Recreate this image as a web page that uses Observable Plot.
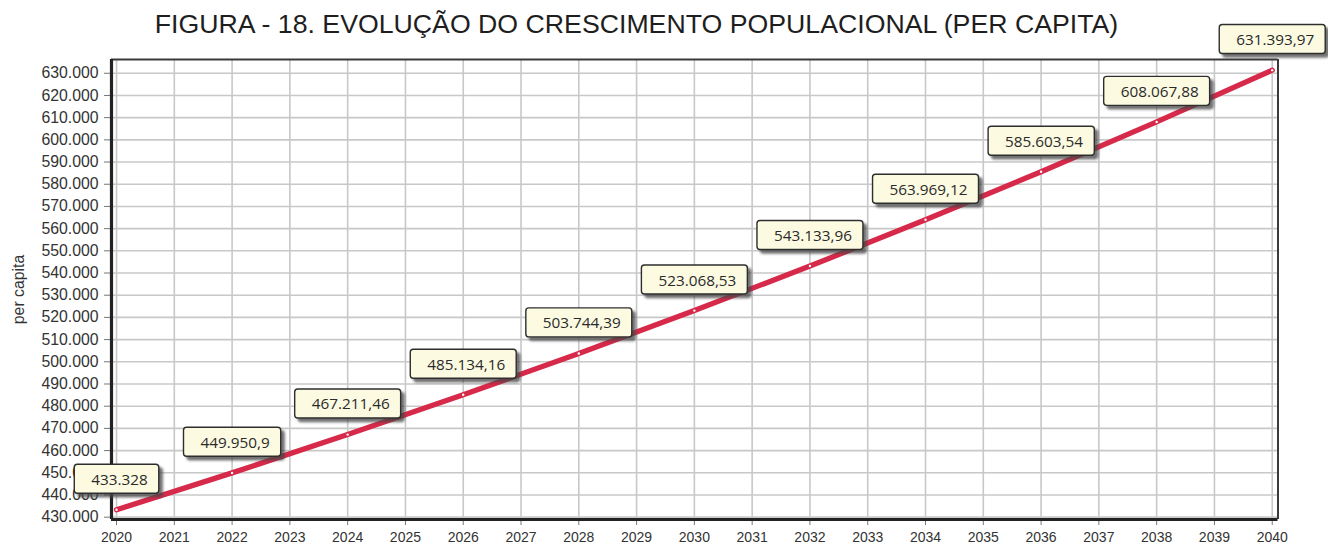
<!DOCTYPE html>
<html>
<head>
<meta charset="utf-8">
<script src="https://cdn.jsdelivr.net/npm/d3@7"></script>
<script src="https://cdn.jsdelivr.net/npm/@observablehq/plot@0.6"></script>
<style>
  body { margin: 0; background: #fff; }
  #wrap { position: relative; width: 1328px; height: 546px; overflow: hidden; }
  #title { position: absolute; left: 0; width: 1273px; top: 9px; line-height: 30px; text-align: center;
           font-family: "Liberation Sans", Arial, sans-serif; font-size: 26.7px; color: #1e1e1e; white-space: nowrap; z-index: 0; }
  #chart { position: absolute; left: 0; top: 0; z-index: 1; }
</style>
</head>
<body>
<div id="wrap">
  <div id="title">FIGURA - 18. EVOLUÇÃO DO CRESCIMENTO POPULACIONAL (PER CAPITA)</div>
  <div id="chart"></div>
</div>
<script>
// ---- data ----
const years = [2020, 2022, 2024, 2026, 2028, 2030, 2032, 2034, 2036, 2038, 2040];
const values = [433328, 449950.9, 467211.46, 485134.16, 503744.39, 523068.53, 543133.96, 563969.12, 585603.54, 608067.88, 631393.97];
const xTicks = [2020, 2021, 2022, 2023, 2024, 2025, 2026, 2027, 2028, 2029, 2030, 2031, 2032, 2033, 2034, 2035, 2036, 2037, 2038, 2039, 2040];
const yTicks = [430000, 440000, 450000, 460000, 470000, 480000, 490000, 500000, 510000, 520000, 530000, 540000, 550000, 560000, 570000, 580000, 590000, 600000, 610000, 620000, 630000];
const yLabel = "per capita";

// ---- scales ----
const xDomain = [2019.913, 2040.1];
const yDomain = [428950, 636200];

const loc = d3.formatLocale({decimal: ",", thousands: ".", grouping: [3], currency: ["", ""]});
const fmt = loc.format(",");

const rows = years.map((y, i) => ({year: y, value: values[i]}));

const chart = Plot.plot({
  width: 1328,
  height: 546,
  marginTop: 59,
  marginBottom: 27,
  marginLeft: 111,
  marginRight: 50.5,
  style: {fontFamily: "'Liberation Sans', Arial, sans-serif", fontSize: "15px", color: "#333", background: "transparent", overflow: "visible"},
  x: {domain: xDomain},
  y: {domain: yDomain},
  marks: [
    Plot.gridX(xTicks, {stroke: "#c8c8c8", strokeOpacity: 1, strokeWidth: 1.6}),
    Plot.gridY(yTicks, {stroke: "#c8c8c8", strokeOpacity: 1, strokeWidth: 1.6}),
    Plot.axisX(xTicks, {tickFormat: d => String(d), tickSize: 6, tickPadding: 7, fontSize: 14, label: null, stroke: "#777", fill: "#333"}),
    Plot.axisY(yTicks, {tickFormat: fmt, tickSize: 7, tickPadding: 6, fontSize: 15.8, label: yLabel, labelAnchor: "center", labelOffset: 99, labelArrow: "none", stroke: "#777", fill: "#333"}),
    Plot.ruleX([xDomain[1]], {stroke: "#3a3a3a", strokeWidth: 2}),
    Plot.ruleY([yDomain[1]], {stroke: "#3a3a3a", strokeWidth: 2}),
    Plot.ruleX([xDomain[0]], {stroke: "#222", strokeWidth: 3.2}),
    Plot.ruleY([yDomain[0]], {stroke: "#222", strokeWidth: 3.2}),
    Plot.line(rows, {x: "year", y: "value", stroke: "#d7294a", strokeWidth: 5.3, strokeLinecap: "round"}),
    Plot.dot(rows, {x: "year", y: "value", r: 1.2, fill: "white"}),
    Plot.text(rows, {x: "year", y: "value", text: d => fmt(d.value), dy: -30, dx: 3, fontSize: 15.3,
                     fontFamily: "'Open Sans', 'Noto Sans', sans-serif", fill: "#2a2a2a", className: "lbl"})
  ]
});

document.getElementById("chart").append(chart);

// label boxes behind each label text
const svgNS = "http://www.w3.org/2000/svg";
const defs = document.createElementNS(svgNS, "defs");
defs.innerHTML = `<filter id="sh" x="-20%" y="-30%" width="140%" height="170%">
  <feDropShadow dx="3.5" dy="3.5" stdDeviation="1.2" flood-color="#444" flood-opacity="0.75"/></filter>`;
chart.insertBefore(defs, chart.firstChild);
chart.querySelectorAll(".lbl text").forEach(t => {
  const bb = t.getBBox();
  const tr = t.getAttribute("transform");
  const r = document.createElementNS(svgNS, "rect");
  const cy = bb.y + bb.height / 2;
  r.setAttribute("x", bb.x - 17);
  r.setAttribute("y", cy - 14.5);
  r.setAttribute("width", bb.width + 28);
  r.setAttribute("height", 29);
  r.setAttribute("rx", 3);
  r.setAttribute("fill", "#fcfbe2");
  r.setAttribute("stroke", "#2e2e2e");
  r.setAttribute("stroke-width", 1.4);
  r.setAttribute("filter", "url(#sh)");
  if (tr) r.setAttribute("transform", tr);
  t.parentNode.insertBefore(r, t);
});
</script>
</body>
</html>
